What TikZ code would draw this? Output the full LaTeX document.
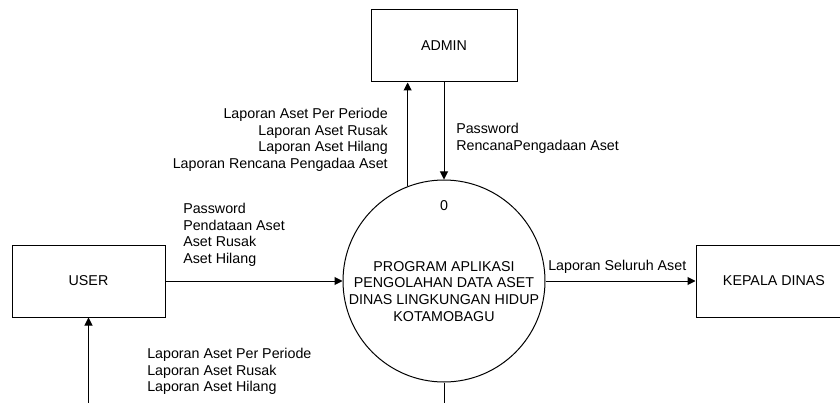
\documentclass[tikz,border=0pt]{standalone}
\usepackage{fontspec}
\setmainfont{Liberation Sans}
\usetikzlibrary{arrows.meta}

\begin{document}
\begin{tikzpicture}[x=0.75pt, y=-0.75pt,
        every node/.style={font=\fontsize{10.7}{12.45}\selectfont},
        entity/.style={draw, line width=0.75pt, minimum height=54pt},
        flow/.style={line width=0.75pt, -{Triangle[length=6pt, width=6pt]}},
        txt/.style={inner sep=0pt}]
        \useasboundingbox (0, 0) rectangle (840, 403);

        \node[entity, minimum width=109.5pt] (admin) at (444, 46) {ADMIN};
        \node[entity, minimum width=114.75pt] (user) at (88.5, 281) {USER};
        \node[entity, minimum width=117pt] (kepala) at (774, 281) {KEPALA DINAS};
        \node[draw, circle, line width=0.75pt, minimum size=151.5pt, inner sep=0pt] (prog) at (444, 281) {};

        \node[txt, anchor=base] (nomor) at (444, 210) {0};
        \node[txt, anchor=north, align=center] (judul) at (444, 261) {PROGRAM APLIKASI\\PENGOLAHAN DATA ASET\\DINAS LINGKUNGAN HIDUP\\KOTAMOBAGU};

        \coordinate (bawah) at (0, 410);

        \draw[flow] (prog.111.5) -- (prog.111.5 |- admin.south);
        \draw[flow] (admin.south) -- (prog.north);
        \draw[flow] (user.east) -- (prog.west);
        \draw[flow] (prog.east) -- (kepala.west);
        \draw[flow] (user.south |- bawah) -- (user.south);
        \draw[line width=0.75pt] (prog.south) -- (prog.south |- bawah);

        \node[txt, anchor=north east, align=right] (lapadmin) at (388, 108) {Laporan Aset Per Periode\\Laporan Aset Rusak\\Laporan Aset Hilang\\Laporan Rencana Pengadaa Aset};
        \node[txt, anchor=north west, align=left] (inadmin) at (456, 123) {Password\\RencanaPengadaan Aset};
        \node[txt, anchor=north west, align=left] (inuser) at (183, 203) {Password\\Pendataan Aset\\Aset Rusak\\Aset Hilang};
        \node[txt, anchor=north west, align=left] (lapuser) at (147, 348) {Laporan Aset Per Periode\\Laporan Aset Rusak\\Laporan Aset Hilang};
        \node[txt, anchor=base west] (lapkepala) at (548, 270) {Laporan Seluruh Aset};
    \end{tikzpicture}
\end{document}
